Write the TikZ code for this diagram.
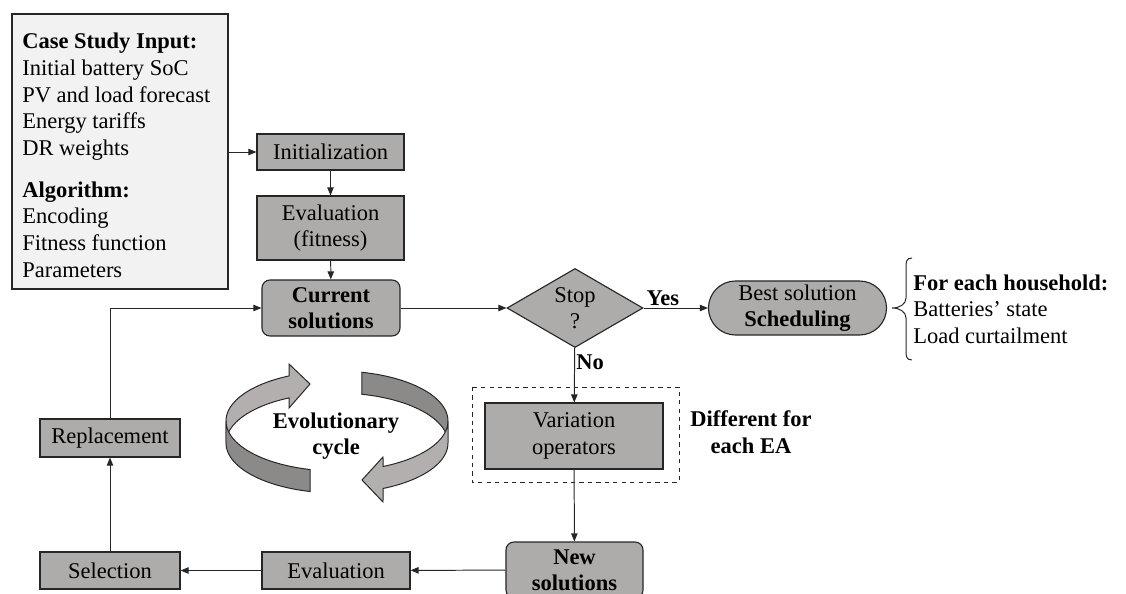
\documentclass[tikz,border=0pt]{standalone}
\usepackage{fontspec}
\setmainfont{Liberation Serif}
\usetikzlibrary{arrows.meta,shapes.geometric,shapes.misc}

\definecolor{boxgray}{HTML}{AEABAB}
\definecolor{inputgray}{HTML}{F2F2F2}
\definecolor{ringlight}{HTML}{B3AFAF}
\definecolor{ringdark}{HTML}{8C8989}
\definecolor{edgegray}{HTML}{262626}
\def\diagfont{\fontsize{16}{18.8}\selectfont}

\tikzset{
	block/.style={draw=edgegray, line width=0.8pt, fill=boxgray, align=center, inner sep=0pt},
	solbox/.style={block, rounded corners=0.2cm, font=\diagfont\bfseries, minimum width=3.45cm, minimum height=1.4cm},
	flow/.style={draw=edgegray, line width=0.7pt, -{Triangle[length=2mm,width=1.6mm]}},
	ringface/.style={draw=edgegray, line width=0.7pt},
	tag/.style={font=\diagfont\bfseries, inner sep=1pt},
}

\begin{document}
\begin{tikzpicture}[x=0.025cm, y=-0.025cm, font=\diagfont]
	%%%%% START %%%%%
	\useasboundingbox (0,0) rectangle (1126,593);
	\clip (0,0) rectangle (1126,593);
	
	\node[draw=edgegray, line width=0.8pt, fill=inputgray, minimum width=5.4cm, minimum height=6.875cm] (input) at (120,151.5) {};
	\node[anchor=north west, align=left, inner sep=0pt, font=\fontsize{16}{19.1}\selectfont] (inputtext) at (22,32.5) {\textbf{Case Study Input:}\\Initial battery SoC\\PV and load forecast\\Energy tariffs\\DR weights\\[0.36cm]\textbf{Algorithm:}\\Encoding\\Fitness function\\Parameters};
	
	\node[block, minimum width=3.675cm, minimum height=0.9cm] (init) at (330.5,152) {Initialization};
	\node[block, minimum width=3.675cm, minimum height=1.6cm] (evalfit) at (330.5,228) {Evaluation\\(fitness)};
	\node[solbox] (cursol) at (331,308) {Current\\solutions};
	\node[block, diamond, aspect=1.7, minimum width=3.4cm, minimum height=1.975cm] (stop) at (575,308) {Stop\\?};
	\node[block, rounded rectangle, minimum width=4.45cm, minimum height=1.35cm] (best) at (797.5,308) {Best solution\\\textbf{Scheduling}};
	\node[block, minimum width=4.45cm, minimum height=1.65cm] (varop) at (574,436) {Variation\\operators};
	\node[solbox, minimum width=3.425cm] (newsol) at (574.5,570) {New\\solutions};
	\node[block, minimum width=3.7cm, minimum height=0.925cm] (evalnew) at (336,570.5) {Evaluation};
	\node[block, minimum width=3.5cm, minimum height=0.925cm] (select) at (110,570.5) {Selection};
	\node[block, minimum width=3.5cm, minimum height=0.95cm] (replace) at (110,438) {Replacement};
	
	\draw[edgegray, line width=0.7pt, dashed] (472,387) rectangle (679,482);
	\node[tag, align=center] (diffea) at (751,432) {Different for\\each EA};
	
	\draw[flow] (input.east |- init.west) -- (init.west);
	\draw[flow] (init) -- (evalfit);
	\draw[flow] (evalfit) -- (cursol);
	\draw[flow] (cursol) -- (stop);
	\draw[flow] (stop) -- node[tag, above, pos=0.3] {Yes} (best);
	\draw[flow] (stop) -- node[tag, right, pos=0.27] {No} (varop);
	\draw[flow] (varop) -- (newsol);
	\draw[flow] (newsol) -- (evalnew);
	\draw[flow] (evalnew) -- (select);
	\draw[flow] (select) -- (replace);
	\draw[flow] (replace.north) |- (cursol.west);
	
	% brace and household output
	\draw[edgegray, line width=0.7pt] (912,258) .. controls (906,258) and (906,262) .. (906,268) -- (906,298) .. controls (906,304) and (900,308) .. (892,308) .. controls (900,308) and (906,312) .. (906,318) -- (906,350) .. controls (906,356) and (906,360) .. (912,360);
	\node[anchor=west, align=left, inner sep=0pt] (house) at (913,309) {\textbf{For each household:}\\Batteries' state\\Load curtailment};
	
	% evolutionary cycle, back faces
	\filldraw[ringface, fill=ringlight] plot[domain=180:244.4, samples=30] ({337+111*cos(\x)},{421+50*sin(\x)}) -- (289,364) -- (310,384) -- (289,408) -- plot[domain=244.4:180, samples=30] ({337+111*cos(\x)},{443+50*sin(\x)}) -- cycle;
	\filldraw[ringface, fill=ringdark] plot[domain=-77:0, samples=30] ({337+111*cos(\x)},{421+50*sin(\x)}) -- plot[domain=0:-77, samples=30] ({337+111*cos(\x)},{443+50*sin(\x)}) -- cycle;
	
	% evolutionary cycle, front faces
	\filldraw[ringface, fill=ringdark] plot[domain=104:180, samples=30] ({337+111*cos(\x)},{421+50*sin(\x)}) -- plot[domain=180:104, samples=30] ({337+111*cos(\x)},{443+50*sin(\x)}) -- cycle;
	\filldraw[ringface, fill=ringlight] plot[domain=0:65.5, samples=30] ({337+111*cos(\x)},{421+50*sin(\x)}) -- (383,457) -- (362,480) -- (383,502) -- plot[domain=65.5:0, samples=30] ({337+111*cos(\x)},{443+50*sin(\x)}) -- cycle;
	
	\node[tag, align=center] (evocycle) at (336,436) {Evolutionary\\cycle};
	
	%%%%% END %%%%%
\end{tikzpicture}
\end{document}
